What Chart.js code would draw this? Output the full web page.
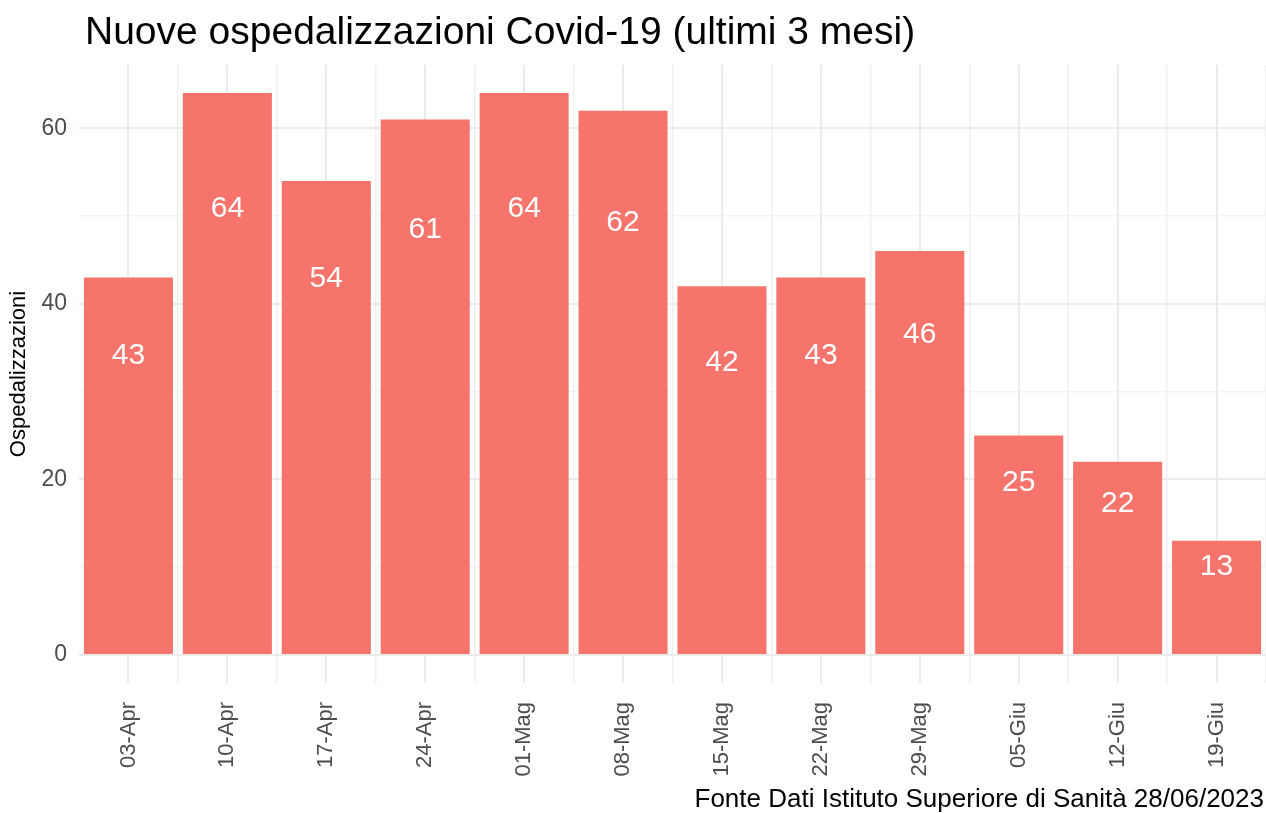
<!DOCTYPE html>
<html>
<head>
<meta charset="utf-8">
<script src="https://cdn.jsdelivr.net/npm/chart.js@4/dist/chart.umd.min.js"></script>
<style>
  html, body { margin: 0; padding: 0; background: #fff; }
  #wrap { width: 1266px; height: 813px; }
</style>
</head>
<body>
<div id="wrap"><canvas id="myChart" width="1266" height="813"></canvas></div>
<script>
const settimane = ['03-Apr','10-Apr','17-Apr','24-Apr','01-Mag','08-Mag','15-Mag','22-Mag','29-Mag','05-Giu','12-Giu','19-Giu'];
const ricoveri = [43, 64, 54, 61, 64, 62, 42, 43, 46, 25, 22, 13];
const titolo = 'Nuove ospedalizzazioni Covid-19 (ultimi 3 mesi)';
const fonte = 'Fonte Dati Istituto Superiore di Sanità 28/06/2023';

const font_base = '"Liberation Sans", Arial, Helvetica, sans-serif';

// testi e etichette dentro le barre
const testi = {
    id: 'testi',
    afterDatasetsDraw(chart){
        const ctx = chart.ctx;
        const y = chart.scales.y;
        const meta = chart.getDatasetMeta(0);
        ctx.save();
        ctx.fillStyle = '#ffffff';
        ctx.font = '30px ' + font_base;
        ctx.textAlign = 'center';
        ctx.textBaseline = 'middle';
        meta.data.forEach((bar, i) => {
            const v = chart.data.datasets[0].data[i];
            ctx.fillText(String(v), bar.x, y.getPixelForValue(v * 0.8) + 3);
        });
        ctx.restore();
    },
    afterDraw(chart){
        const ctx = chart.ctx;
        ctx.save();
        ctx.fillStyle = '#000000';
        ctx.textBaseline = 'alphabetic';
        ctx.textAlign = 'left';
        ctx.font = '39px ' + font_base;
        ctx.fillText(titolo, 85, 44);
        ctx.textAlign = 'right';
        ctx.font = '26px ' + font_base;
        ctx.fillText(fonte, 1264, 807);
        ctx.restore();
    }
};

const ctx = document.querySelector('#myChart');
const myChart = new Chart(ctx, {
    type: 'bar',
    data: {
        labels: settimane,
        datasets: [{
            label: 'Ospedalizzazioni',
            data: ricoveri,
            backgroundColor: '#F6746B',
            borderWidth: 0,
            barPercentage: 0.9,
            categoryPercentage: 1.0,
            xAxisID: 'x'
        }]
    },
    options: {
        responsive: false,
        animation: false,
        layout: { padding: { top: 65, left: 0, right: 0, bottom: 0 } },
        plugins: {
            legend: { display: false },
            tooltip: { enabled: false },
            title: { display: false }
        },
        scales: {
            x: {
                type: 'category',
                offset: true,
                border: { display: false },
                grid: { offset: false, color: '#ebebeb', lineWidth: 2, drawTicks: false },
                ticks: {
                    minRotation: 90, maxRotation: 90,
                    padding: 19,
                    color: '#4d4d4d',
                    font: { size: 22, family: font_base }
                },
                afterFit: s => { s.height = 130; }
            },
            x2: {
                type: 'category',
                labels: settimane,
                position: 'bottom',
                offset: true,
                border: { display: false },
                grid: {
                    offset: true,
                    drawTicks: false,
                    lineWidth: 1.5,
                    color: c => (c.index === 0 || c.index === settimane.length) ? 'rgba(0,0,0,0)' : '#f0f0f0'
                },
                ticks: { display: false },
                afterFit: s => { s.height = 0; }
            },
            y: {
                min: -3.2,
                max: 67.2,
                border: { display: false },
                grid: {
                    drawTicks: false,
                    color: c => (c.tick && c.tick.value % 20 === 0) ? '#ebebeb' : '#f3f3f3',
                    lineWidth: c => (c.tick && c.tick.value % 20 === 0) ? 2 : 1.5
                },
                ticks: {
                    stepSize: 10,
                    includeBounds: false,
                    padding: 12,
                    color: '#4d4d4d',
                    font: { size: 23, family: font_base },
                    callback: v => (v % 20 === 0 ? v : '')
                },
                title: {
                    display: true,
                    text: 'Ospedalizzazioni',
                    color: '#000000',
                    font: { size: 22, family: font_base },
                    padding: { top: 6, bottom: 0 }
                },
                afterFit: s => { s.width = 79; }
            }
        }
    },
    plugins: [testi]
});
</script>
</body>
</html>
